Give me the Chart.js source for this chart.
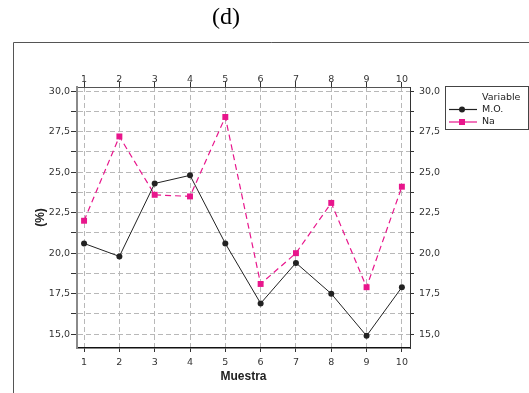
<!DOCTYPE html>
<html>
<head>
<meta charset="utf-8">
<script src="https://cdn.jsdelivr.net/npm/chart.js@4.4.1/dist/chart.umd.min.js"></script>
<style>
  html, body { margin: 0; padding: 0; background: #fff; }
</style>
</head>
<body>
<canvas id="chart" width="529" height="393"></canvas>
<script>
// data
const muestras = [1, 2, 3, 4, 5, 6, 7, 8, 9, 10];
const moValues = [20.6, 19.8, 24.3, 24.8, 20.6, 16.9, 19.4, 17.5, 14.9, 17.9];
const naValues = [22.0, 27.2, 23.6, 23.5, 28.4, 18.1, 20.0, 23.1, 17.9, 24.1];
const yTicks = [15.0, 16.25, 17.5, 18.75, 20.0, 21.25, 22.5, 23.75, 25.0, 26.25, 27.5, 28.75, 30.0];
const seriesNames = ['M.O.', 'Na'];

const tickFont = { family: 'DejaVu Sans', size: 9.5 };
const titleFont = { family: 'Liberation Sans', size: 12, weight: 'bold' };
const gridColor = '#b8b8b8';
const pink = '#e8168c';

function yLabel(v) {
    return (v % 2.5 === 0) ? v.toFixed(1).replace('.', ',') : '';
}

// frame, "(d)" title and the boxed legend
const decor = {
    id: 'decor',
    afterDraw(chart) {
        const ctx = chart.ctx;
        ctx.save();
        ctx.strokeStyle = '#555';
        ctx.lineWidth = 1;
        ctx.beginPath();
        ctx.moveTo(13.5, 393);
        ctx.lineTo(13.5, 42.5);
        ctx.lineTo(529, 42.5);
        ctx.stroke();

        ctx.fillStyle = '#000';
        ctx.font = '24px "Liberation Serif"';
        ctx.textAlign = 'center';
        ctx.textBaseline = 'middle';
        ctx.fillText('(d)', 226, 18);

        // legend
        ctx.strokeStyle = '#444';
        ctx.strokeRect(445.5, 86.5, 83, 43);
        ctx.font = '9.5px "DejaVu Sans"';
        ctx.fillStyle = '#222';
        ctx.textAlign = 'left';
        ctx.fillText('Variable', 482, 98);
        chart.data.datasets.forEach((ds, i) => {
            const y = 109.5 + i * 12.5;
            ctx.strokeStyle = ds.borderColor;
            ctx.lineWidth = 1.2;
            ctx.beginPath();
            ctx.moveTo(449, y);
            ctx.lineTo(477, y);
            ctx.stroke();
            ctx.fillStyle = ds.backgroundColor;
            ctx.beginPath();
            if (ds.pointStyle === 'rect') {
                ctx.rect(459, y - 3, 6, 6);
            } else {
                ctx.arc(462, y, 3, 0, Math.PI * 2);
            }
            ctx.fill();
            ctx.fillStyle = '#222';
            ctx.fillText(ds.label, 482, y);
        });
        ctx.restore();
    }
};

const xTicksFn = s => { s.ticks = muestras.map(v => ({ value: v })); };
const yTicksFn = s => { s.ticks = yTicks.map(v => ({ value: v })); };

new Chart(document.getElementById('chart'), {
    type: 'line',
    data: {
        datasets: [
            {
                label: seriesNames[0],
                data: muestras.map((m, i) => ({ x: m, y: moValues[i] })),
                borderColor: '#222',
                backgroundColor: '#222',
                borderWidth: 1,
                pointStyle: 'circle',
                pointRadius: 3,
                pointBorderWidth: 0,
                tension: 0
            },
            {
                label: seriesNames[1],
                data: muestras.map((m, i) => ({ x: m, y: naValues[i] })),
                borderColor: pink,
                backgroundColor: pink,
                borderWidth: 1.2,
                borderDash: [6, 4],
                pointStyle: 'rect',
                pointRadius: 4.2,
                pointBorderWidth: 0,
                tension: 0
            }
        ]
    },
    options: {
        responsive: false,
        animation: false,
        layout: { padding: { left: 13, right: 79, top: 50, bottom: 0 } },
        plugins: {
            legend: { display: false },
            tooltip: { enabled: false }
        },
        scales: {
            x: {
                type: 'linear',
                position: 'bottom',
                min: 0.8,
                max: 10.23,
                afterBuildTicks: xTicksFn,
                afterFit: s => { s.height = 45; },
                ticks: { color: '#333', font: tickFont, padding: 5, maxRotation: 0, autoSkip: false },
                grid: { color: gridColor, tickColor: '#333', tickLength: 4 },
                border: { color: '#111', width: 1.5, dash: [5, 3] },
                title: { display: true, text: 'Muestra', color: '#222', font: titleFont, padding: { top: 0, bottom: 9 } }
            },
            x2: {
                type: 'linear',
                position: 'top',
                min: 0.8,
                max: 10.23,
                afterBuildTicks: xTicksFn,
                afterFit: s => { s.height = 37; },
                ticks: { color: '#333', font: tickFont, padding: -3, maxRotation: 0, autoSkip: false },
                grid: { drawOnChartArea: false, tickColor: '#333', tickLength: 5 },
                border: { color: '#555', width: 1 }
            },
            y: {
                type: 'linear',
                position: 'left',
                min: 14.15,
                max: 30.25,
                afterBuildTicks: yTicksFn,
                afterFit: s => { s.width = 64; },
                ticks: { color: '#333', font: tickFont, padding: 1, callback: yLabel },
                grid: { color: gridColor, tickColor: '#333', tickLength: 6 },
                border: { color: '#8a8a8a', width: 2, dash: [5, 3] },
                title: { display: true, text: '(%)', color: '#222', font: titleFont, padding: { top: 20, bottom: 0 } }
            },
            y2: {
                type: 'linear',
                position: 'right',
                min: 14.15,
                max: 30.25,
                afterBuildTicks: yTicksFn,
                afterFit: s => { s.width = 40; },
                ticks: { color: '#333', font: tickFont, padding: 5, callback: yLabel },
                grid: { drawOnChartArea: false, tickColor: '#333', tickLength: 4 },
                border: { color: '#333', width: 1 }
            }
        }
    },
    plugins: [decor]
});
</script>
</body>
</html>
